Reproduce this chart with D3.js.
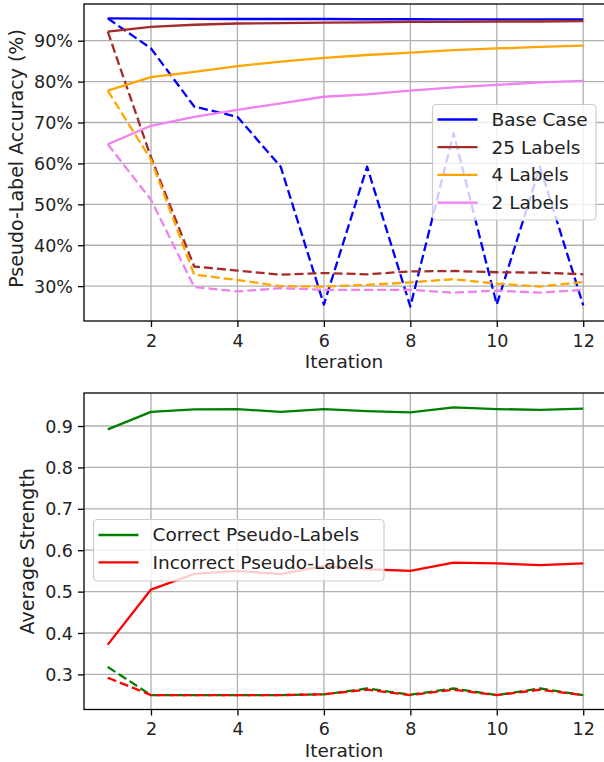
<!DOCTYPE html>
<html>
<head>
<meta charset="utf-8">
<script src="https://cdn.jsdelivr.net/npm/d3@7"></script>
<style>
  body { margin: 0; background: #fff; }
  svg { display: block; font-family: "DejaVu Sans", sans-serif; }
</style>
</head>
<body>
<div id="chart"></div>
<script>
// iterations
const iterations = [1, 2, 3, 4, 5, 6, 7, 8, 9, 10, 11, 12]

// top plot, pseudo-label accuracy in %
const baseSolid = [95.45, 95.4, 95.35, 95.3, 95.3, 95.3, 95.25, 95.25, 95.2, 95.2, 95.2, 95.2]
const baseDashed = [95.45, 88.1, 73.9, 71.4, 59.2, 25.5, 59.2, 25.0, 67.4, 25.5, 59.2, 25.3]
const labels25Solid = [92.2, 93.4, 93.9, 94.2, 94.3, 94.4, 94.5, 94.6, 94.6, 94.7, 94.7, 94.8]
const labels25Dashed = [92.2, 61.5, 34.8, 33.8, 32.8, 33.2, 32.9, 33.6, 33.7, 33.4, 33.3, 32.9]
const labels4Solid = [77.8, 81.1, 82.4, 83.8, 84.9, 85.8, 86.5, 87.1, 87.7, 88.1, 88.5, 88.8]
const labels4Dashed = [77.8, 60.9, 32.8, 31.5, 30.0, 29.9, 30.3, 30.9, 31.7, 30.6, 29.9, 31.0]
const labels2Solid = [64.7, 69.2, 71.4, 73.1, 74.7, 76.3, 76.9, 77.8, 78.6, 79.2, 79.8, 80.2]
const labels2Dashed = [64.7, 51.1, 29.8, 28.7, 29.5, 29.1, 29.1, 29.1, 28.4, 28.9, 28.4, 29.1]
const topLegend = ['Base Case', '25 Labels', '4 Labels', '2 Labels']
const topTicks = [30, 40, 50, 60, 70, 80, 90]

// bottom plot, average strength
const correctSolid = [0.892, 0.934, 0.940, 0.941, 0.934, 0.941, 0.936, 0.933, 0.945, 0.941, 0.939, 0.942]
const incorrectSolid = [0.372, 0.505, 0.543, 0.550, 0.542, 0.562, 0.554, 0.550, 0.570, 0.568, 0.564, 0.568]
const correctDashed = [0.318, 0.25, 0.25, 0.25, 0.25, 0.252, 0.266, 0.251, 0.266, 0.25, 0.266, 0.25]
const incorrectDashed = [0.292, 0.25, 0.25, 0.25, 0.25, 0.252, 0.263, 0.25, 0.263, 0.25, 0.263, 0.25]
const bottomLegend = ['Correct Pseudo-Labels', 'Incorrect Pseudo-Labels']
const bottomTicks = [0.3, 0.4, 0.5, 0.6, 0.7, 0.8, 0.9]

const xTicks = [2, 4, 6, 8, 10, 12]

const W = 604, H = 762
const left = 84, right = 607
const lw = 2.3
const dash = '9,4'

const svg = d3.select('div#chart')
    .append('svg')
    .attr('width', W)
    .attr('height', H)

// matplotlib style 5% padding
function padded(ext) {
    const m = (ext[1] - ext[0]) * 0.05
    return [ext[0] - m, ext[1] + m]
}

function panel(opts) {
    const g = svg.append('g')
    const x = d3.scaleLinear().domain(padded(d3.extent(iterations))).range([left, right])
    const allVals = opts.series.flatMap(s => s.values)
    const y = d3.scaleLinear().domain(padded(d3.extent(allVals))).range([opts.bottom, opts.top])

    // grid
    g.selectAll('line.gx')
        .data(xTicks)
        .enter()
        .append('line')
        .attr('x1', d => x(d)).attr('x2', d => x(d))
        .attr('y1', opts.top).attr('y2', opts.bottom)
        .style('stroke', '#b0b0b0').style('stroke-width', 1.3)
    g.selectAll('line.gy')
        .data(opts.yTicks)
        .enter()
        .append('line')
        .attr('x1', left).attr('x2', right)
        .attr('y1', d => y(d)).attr('y2', d => y(d))
        .style('stroke', '#b0b0b0').style('stroke-width', 1.3)

    // lines
    const line = d3.line().x((d, i) => x(iterations[i])).y(d => y(d))
    opts.series.forEach(s => {
        g.append('path')
            .datum(s.values)
            .attr('d', line)
            .style('fill', 'none')
            .style('stroke', s.color)
            .style('stroke-width', lw)
            .style('stroke-dasharray', s.dashed ? dash : null)
            .style('stroke-linejoin', 'round')
    })

    // axes
    const xAxis = g.append('g')
        .attr('transform', `translate(0,${opts.bottom})`)
        .call(d3.axisBottom(x).tickValues(xTicks).tickSize(6).tickPadding(4).tickFormat(d3.format('d')))
    const yAxis = g.append('g')
        .attr('transform', `translate(${left},0)`)
        .call(d3.axisLeft(y).tickValues(opts.yTicks).tickSize(6).tickPadding(5).tickFormat(opts.fmt))
    ;[xAxis, yAxis].forEach(a => {
        a.select('.domain').remove()
        a.selectAll('line').style('stroke', '#000').style('stroke-width', 1.3)
        a.selectAll('text').style('font-size', '17.5px').style('fill', '#222')
            .style('font-family', '"DejaVu Sans", sans-serif')
    })
    xAxis.selectAll('text').attr('dy', '0.9em')
    yAxis.selectAll('text').attr('dy', '0.35em')

    // frame
    g.append('rect')
        .attr('x', left).attr('y', opts.top)
        .attr('width', right - left).attr('height', opts.bottom - opts.top)
        .style('fill', 'none').style('stroke', '#000').style('stroke-width', 1.3)

    // labels
    g.append('text')
        .text('Iteration')
        .attr('x', 344).attr('y', opts.bottom + 47)
        .attr('text-anchor', 'middle')
        .style('font-size', '18.5px').style('fill', '#222')
    g.append('text')
        .text(opts.yLabel)
        .attr('transform', `translate(${opts.yLabelX},${(opts.top + opts.bottom) / 2 - opts.yShift}) rotate(-90)`)
        .attr('text-anchor', 'middle')
        .style('font-size', '19px').style('fill', '#222')

    // legend
    const lg = g.append('g')
    lg.append('rect')
        .attr('x', opts.legend.x).attr('y', opts.legend.y)
        .attr('width', opts.legend.w).attr('height', opts.legend.h)
        .attr('rx', 4)
        .style('fill', '#fff').style('fill-opacity', 0.8)
        .style('stroke', '#cccccc').style('stroke-width', 1.2)
    const items = opts.series.filter(s => s.label)
    items.forEach((s, i) => {
        const cy = opts.legend.y + opts.legend.first + i * opts.legend.step
        lg.append('line')
            .attr('x1', opts.legend.x + 5).attr('x2', opts.legend.x + 45)
            .attr('y1', cy).attr('y2', cy)
            .style('stroke', s.color).style('stroke-width', lw)
        lg.append('text')
            .text(s.label)
            .attr('x', opts.legend.x + 59).attr('y', cy).attr('dy', '0.35em')
            .style('font-size', '18.5px').style('fill', '#222')
    })
}

panel({
    top: 4, bottom: 321,
    yTicks: topTicks,
    fmt: d => d + '%',
    yLabel: 'Pseudo-Label Accuracy (%)', yLabelX: 23, yShift: 4,
    legend: { x: 432.5, y: 104.5, w: 163.5, h: 115.5, first: 15, step: 27.7 },
    series: [
        { values: baseSolid, color: 'blue', label: topLegend[0] },
        { values: baseDashed, color: 'blue', dashed: true },
        { values: labels25Solid, color: 'brown', label: topLegend[1] },
        { values: labels25Dashed, color: 'brown', dashed: true },
        { values: labels4Solid, color: 'orange', label: topLegend[2] },
        { values: labels4Dashed, color: 'orange', dashed: true },
        { values: labels2Solid, color: 'violet', label: topLegend[3] },
        { values: labels2Dashed, color: 'violet', dashed: true }
    ]
})

panel({
    top: 393, bottom: 709.5,
    yTicks: bottomTicks,
    fmt: d3.format('.1f'),
    yLabel: 'Average Strength', yLabelX: 34, yShift: 0,
    legend: { x: 93.5, y: 519.5, w: 290.5, h: 61.5, first: 15.5, step: 27.3 },
    series: [
        { values: correctSolid, color: 'green', label: bottomLegend[0] },
        { values: incorrectSolid, color: 'red', label: bottomLegend[1] },
        { values: correctDashed, color: 'green', dashed: true },
        { values: incorrectDashed, color: 'red', dashed: true }
    ]
})
</script>
</body>
</html>
